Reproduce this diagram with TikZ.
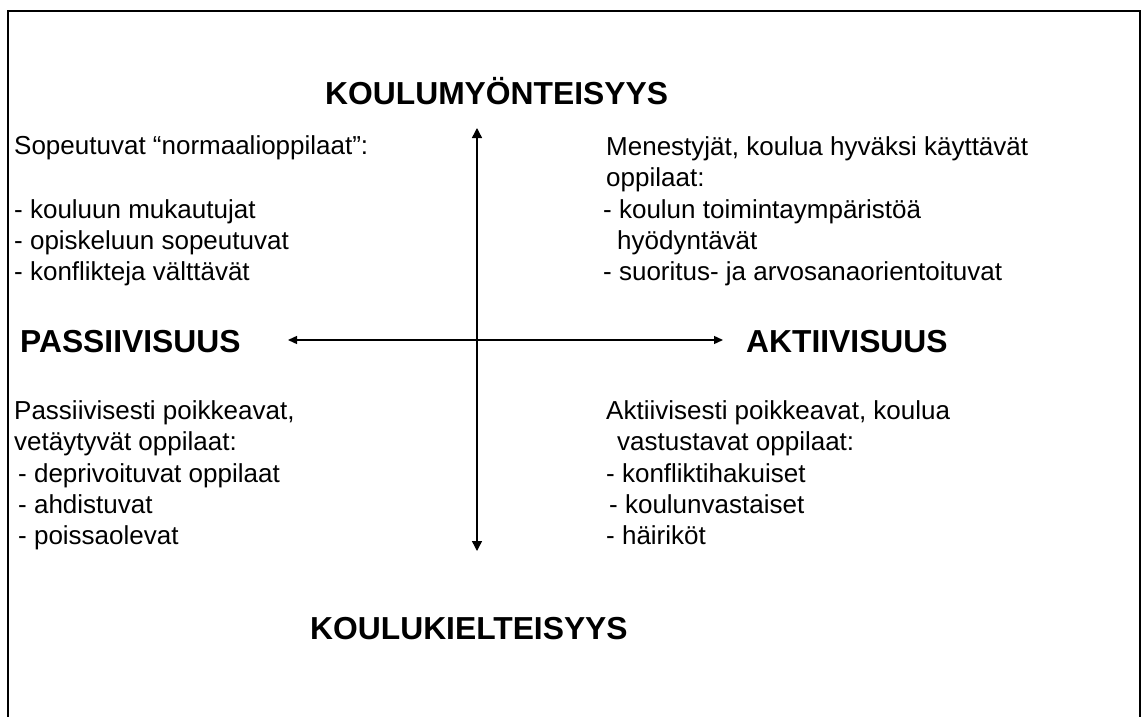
\documentclass[tikz,border=0pt]{standalone}
\usepackage{fontspec}
\setmainfont{Liberation Sans}
\usetikzlibrary{arrows.meta}
\begin{document}
\begin{tikzpicture}[x=1pt,y=-1pt,
  body/.style={anchor=base west,inner sep=0pt,font=\fontsize{26}{31}\selectfont},
  head/.style={anchor=base west,inner sep=0pt,font=\fontsize{31.8}{36}\selectfont\bfseries},
  tip/.style={Triangle[length=10pt,width=10pt]},
  axis/.style={line width=1.4pt,{Triangle[length=10pt,width=10pt]}-{Triangle[length=10pt,width=10pt]}},
  haxis/.style={line width=1.4pt,{Triangle[length=9pt,width=8pt]}-{Triangle[length=9pt,width=8pt]}}]
\useasboundingbox (0,0) rectangle (1144,717);
\begin{scope}
\clip (0,0) rectangle (1144,717);
\draw[line width=1.6pt] (8,11) rectangle (1140,740);
\end{scope}
% headings
\node[head] (hy) at (325,104) {KOULUMYÖNTEISYYS};
\node[head] (hk) at (310,639) {KOULUKIELTEISYYS};
\node[head] (hp) at (20,352) {PASSIIVISUUS};
\node[head] (ha) at (746,352) {AKTIIVISUUS};
% axes
\coordinate (vt) at (477,128);
\coordinate (vb) at (477,551);
\coordinate (hl) at (288,340);
\coordinate (hr) at (723,340);
\draw[axis] (vb) -- (vt);
\draw[haxis] (hl) -- (hr);
% top left
\node[body] (tl1) at (14,154) {Sopeutuvat “normaalioppilaat”:};
\node[body] (tl2) at (14,218) {- kouluun mukautujat};
\node[body] (tl3) at (14,249) {- opiskeluun sopeutuvat};
\node[body] (tl4) at (14,280) {- konflikteja välttävät};
% top right
\node[body] (tr1) at (606,155) {Menestyjät, koulua hyväksi käyttävät};
\node[body] (tr2) at (606,186) {oppilaat:};
\node[body] (tr3) at (603,218) {- koulun toimintaympäristöä};
\node[body] (tr4) at (617,249) {hyödyntävät};
\node[body] (tr5) at (603,280) {- suoritus- ja arvosanaorientoituvat};
% bottom left
\node[body] (bl1) at (14,419) {Passiivisesti poikkeavat,};
\node[body] (bl2) at (14,450) {vetäytyvät oppilaat:};
\node[body] (bl3) at (18,482) {- deprivoituvat oppilaat};
\node[body] (bl4) at (18,513) {- ahdistuvat};
\node[body] (bl5) at (18,544) {- poissaolevat};
% bottom right
\node[body] (br1) at (606,419) {Aktiivisesti poikkeavat, koulua};
\node[body] (br2) at (617,450) {vastustavat oppilaat:};
\node[body] (br3) at (606,482) {- konfliktihakuiset};
\node[body] (br4) at (609,513) {- koulunvastaiset};
\node[body] (br5) at (606,544) {- häiriköt};
\end{tikzpicture}
\end{document}
